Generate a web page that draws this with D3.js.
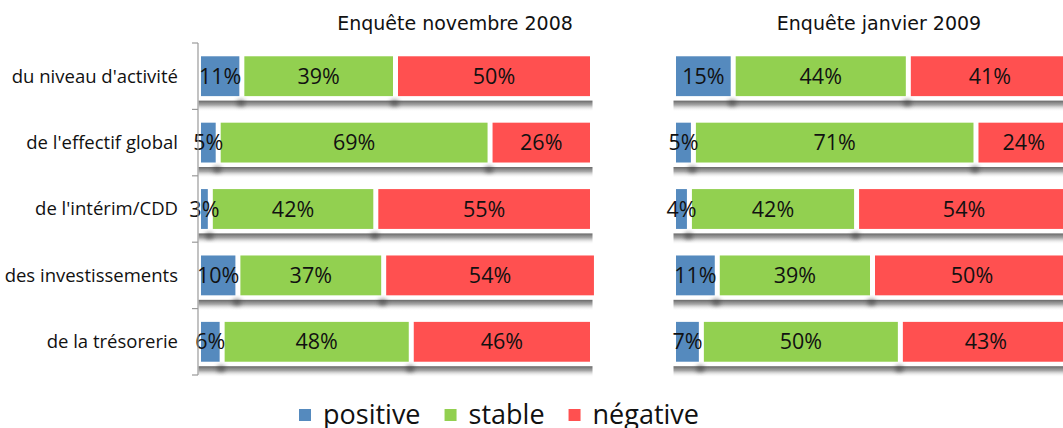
<!DOCTYPE html>
<html>
<head>
<meta charset="utf-8">
<script src="https://cdn.jsdelivr.net/npm/d3@7"></script>
<style>
  body { margin: 0; background: #fff; }
  svg { display: block; }
  text { font-family: "Open Sans", sans-serif; fill: #111; }
</style>
</head>
<body>
<svg width="1063" height="428"></svg>
<script>
// data
const categories = ["du niveau d'activité", "de l'effectif global", "de l'intérim/CDD", "des investissements", "de la trésorerie"];
const seriesNames = ["positive", "stable", "négative"];
const seriesColors = ["#558ABE", "#92D050", "#FF5050"];
const surveys = ["Enquête novembre 2008", "Enquête janvier 2009"];
// one array per survey, one row per category : [positive, stable, négative]
const nov2008 = [[11, 39, 50], [5, 69, 26], [3, 42, 55], [10, 37, 54], [6, 48, 46]];
const jan2009 = [[15, 44, 41], [5, 71, 24], [4, 42, 54], [11, 39, 50], [7, 50, 43]];

const svg = d3.select("svg");

const defs = svg.append("defs");
const grad = defs.append("linearGradient")
    .attr("id", "shadowGrad")
    .attr("x1", 0).attr("y1", 0).attr("x2", 0).attr("y2", 1);
grad.append("stop").attr("offset", "0%").attr("stop-color", "#5f5f5f").attr("stop-opacity", 0.95);
grad.append("stop").attr("offset", "40%").attr("stop-color", "#8a8a8a").attr("stop-opacity", 0.75);
grad.append("stop").attr("offset", "100%").attr("stop-color", "#ffffff").attr("stop-opacity", 0);
defs.append("filter").attr("id", "blur")
    .attr("x", "-50%").attr("y", "-50%").attr("width", "200%").attr("height", "200%")
    .append("feGaussianBlur").attr("stdDeviation", 2);

const y = d3.scaleBand()
    .domain(categories)
    .range([43, 375])
    .paddingInner(0.4)
    .paddingOuter(0.2);

const panels = [
    { title: surveys[0], values: nov2008, x: d3.scaleLinear().domain([0, 100]).range([198.5, 592.5]), titleX: 455, axis: true },
    { title: surveys[1], values: jan2009, x: d3.scaleLinear().domain([0, 100]).range([673.5, 1071.5]), titleX: 879, axis: false }
];

const gap = 2.5;

panels.forEach(p => {
    const g = svg.append("g");
    const x = p.x;

    // stacked rows
    const rows = p.values.map((vals, i) => {
        let acc = 0;
        return vals.map((v, k) => {
            const seg = { cat: categories[i], k: k, v: v, x0: acc, x1: acc + v };
            acc += v;
            return seg;
        });
    });

    // shadows under each bar
    g.selectAll(".shadow")
        .data(categories)
        .join("rect")
        .attr("class", "shadow")
        .attr("x", x(0))
        .attr("y", d => y(d) + y.bandwidth() + 4.5)
        .attr("width", x(100) - x(0))
        .attr("height", 11)
        .attr("fill", "url(#shadowGrad)");

    // darker smudges at the end of each segment
    g.selectAll(".spot")
        .data(rows.flat().filter(s => s.k < 2))
        .join("ellipse")
        .attr("class", "spot")
        .attr("cx", d => x(d.x1) - 1)
        .attr("cy", d => y(d.cat) + y.bandwidth() + 7)
        .attr("rx", 4.5)
        .attr("ry", 3.5)
        .attr("fill", "#3a3a3a")
        .attr("opacity", 0.55)
        .attr("filter", "url(#blur)");

    const rowG = g.selectAll(".row")
        .data(rows)
        .join("g")
        .attr("class", "row");

    rowG.selectAll("rect")
        .data(d => d)
        .join("rect")
        .attr("x", d => x(d.x0) + gap)
        .attr("y", d => y(d.cat))
        .attr("width", d => Math.max(1, x(d.x1) - x(d.x0) - 2 * gap))
        .attr("height", y.bandwidth())
        .attr("fill", d => seriesColors[d.k]);

    rowG.selectAll("text")
        .data(d => d)
        .join("text")
        .attr("x", d => (x(d.x0) + x(d.x1)) / 2)
        .attr("y", d => y(d.cat) + y.bandwidth() / 2 + 7.5)
        .attr("text-anchor", "middle")
        .style("font-size", "21.5px")
        .text(d => d.v + "%");

    // title
    svg.append("text")
        .attr("x", p.titleX)
        .attr("y", 30)
        .attr("text-anchor", "middle")
        .style("font-family", "'DejaVu Sans', sans-serif")
        .style("font-size", "19px")
        .text(p.title);

    if (p.axis) {
        const axis = d3.axisLeft(y).tickSize(0).tickPadding(20);
        const ag = svg.append("g")
            .attr("transform", `translate(${x(0) - 0.5},0)`)
            .call(axis);
        ag.select(".domain").remove();
        ag.selectAll("text")
            .attr("dy", "0.35em")
            .style("font-size", "18.5px")
            .style("font-family", "'Open Sans', sans-serif")
            .attr("fill", "#111");
        // axis line and band-boundary ticks
        svg.append("line")
            .attr("x1", x(0) - 0.5).attr("x2", x(0) - 0.5)
            .attr("y1", y.range()[0]).attr("y2", y.range()[1])
            .attr("stroke", "#9a9a9a").attr("stroke-width", 1.2);
        const bounds = d3.range(categories.length + 1).map(i => y.range()[0] + i * y.step());
        svg.selectAll(".btick")
            .data(bounds)
            .join("line")
            .attr("class", "btick")
            .attr("x1", x(0) - 6.5).attr("x2", x(0) - 0.5)
            .attr("y1", d => d).attr("y2", d => d)
            .attr("stroke", "#9a9a9a").attr("stroke-width", 1.2);
    }
});

// legend
const legend = svg.append("g");
let lx = 299;
seriesNames.forEach((name, k) => {
    legend.append("rect")
        .attr("x", lx).attr("y", 409)
        .attr("width", 12).attr("height", 12)
        .attr("fill", seriesColors[k]);
    const t = legend.append("text")
        .attr("x", lx + 24)
        .attr("y", 424)
        .style("font-size", "27px")
        .text(name);
    lx += 24 + t.node().getComputedTextLength() + 24;
});
</script>
</body>
</html>
